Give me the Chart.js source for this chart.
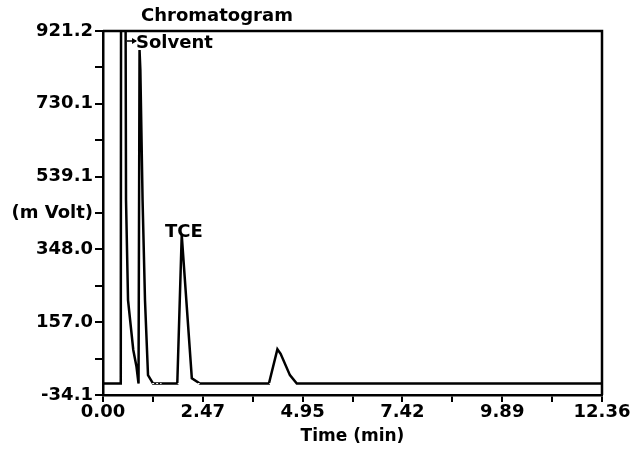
<!DOCTYPE html>
<html>
<head>
<meta charset="utf-8">
<script src="https://cdn.jsdelivr.net/npm/chart.js@4"></script>
<style>
  html, body { margin: 0; padding: 0; background: #fff; }
  #wrap { width: 636px; height: 455px; }
</style>
</head>
<body>
<div id="wrap"><canvas id="chart" width="636" height="455"></canvas></div>
<script>
// retention time (min) and detector signal (mV)
const time = [0, 0.44, 0.45, 0.55, 0.57, 0.62, 0.75, 0.83, 0.88, 0.89, 0.905, 0.925, 0.98, 1.04, 1.115, 1.24, 1.84, 1.95, 2.20, 2.40, 4.11, 4.32, 4.40, 4.63, 4.80, 12.36];
const signal = [-4, -4, 1400, 1400, 478, 215, 84, 40, -4, -4, 871, 820, 478, 215, 18, -4, -4, 386, 10, -4, -4, 86, 74, 18, -4, -4];

// integration windows marked along the baseline (min)
const integStart = [0.50, 0.92, 1.85, 4.12];
const integEnd = [0.87, 1.45, 2.40, 4.70];
const baseline = -4;

// axis ranges and tick labels
const xMin = 0, xMax = 12.36;
const yMin = -34.1, yMax = 921.2;
const xTickLabels = ['0.00', '', '2.47', '', '4.95', '', '7.42', '', '9.89', '', '12.36'];
const yTickLabels = ['-34.1', '', '157.0', '', '348.0', '(m Volt)', '539.1', '', '730.1', '', '921.2'];

// peak labels
const peakNames = ['Solvent', 'TCE'];

const tickFont = { family: 'DejaVu Sans', size: 18, weight: 'bold' };

const points = time.map((t, i) => ({ x: t, y: signal[i] }));
const marks = [];
integStart.forEach((s, i) => {
  marks.push({ x: s, y: baseline }, { x: integEnd[i], y: baseline }, { x: integEnd[i], y: null });
});

// frame, title and peak annotations
const extras = {
  id: 'extras',
  afterDraw(chart) {
    const ctx = chart.ctx;
    const a = chart.chartArea;
    ctx.save();
    ctx.strokeStyle = '#000';
    ctx.lineWidth = 2.5;
    ctx.beginPath();
    ctx.moveTo(a.left, a.top);
    ctx.lineTo(a.right, a.top);
    ctx.lineTo(a.right, a.bottom);
    ctx.stroke();

    ctx.fillStyle = '#000';
    ctx.font = 'bold 18px "DejaVu Sans"';
    ctx.textBaseline = 'middle';
    ctx.textAlign = 'center';
    ctx.fillText('Chromatogram', 217, 16);

    // arrow pointing at solvent peak
    ctx.lineWidth = 1.5;
    ctx.beginPath();
    ctx.moveTo(127, 41);
    ctx.lineTo(136, 41);
    ctx.stroke();
    ctx.beginPath();
    ctx.moveTo(137, 41);
    ctx.lineTo(132, 38);
    ctx.lineTo(132, 44);
    ctx.closePath();
    ctx.fill();
    ctx.textAlign = 'left';
    ctx.fillText(peakNames[0], 136, 43);
    ctx.fillText(peakNames[1], 165, 232);
    ctx.restore();
  }
};

new Chart(document.getElementById('chart').getContext('2d'), {
  type: 'scatter',
  data: {
    datasets: [{
      data: points,
      showLine: true,
      borderColor: '#000',
      borderWidth: 2.5,
      pointRadius: 0,
      tension: 0,
      order: 2
    }, {
      data: marks,
      showLine: true,
      spanGaps: false,
      borderColor: '#fff',
      borderWidth: 1,
      borderDash: [2, 2],
      pointRadius: 0,
      order: 1
    }]
  },
  options: {
    responsive: false,
    animation: false,
    layout: { padding: { top: 31, right: 34, bottom: 0, left: 0 } },
    plugins: { legend: { display: false }, tooltip: { enabled: false } },
    scales: {
      x: {
        type: 'linear',
        min: xMin,
        max: xMax,
        afterFit(s) { s.height = 60; },
        border: { display: true, color: '#000', width: 2.5 },
        grid: { drawOnChartArea: false, drawTicks: true, tickLength: 7, color: '#000', lineWidth: 2 },
        ticks: {
          stepSize: (xMax - xMin) / 10,
          autoSkip: false,
          maxRotation: 0,
          padding: 0,
          color: '#000',
          font: tickFont,
          callback: (v, i) => xTickLabels[i]
        },
        title: {
          display: true,
          text: 'Time (min)',
          color: '#000',
          font: { family: 'DejaVu Sans', size: 17, weight: 'bold' },
          padding: { top: 0, bottom: 8 }
        }
      },
      y: {
        min: yMin,
        max: yMax,
        afterFit(s) { s.width = 103; },
        border: { display: true, color: '#000', width: 2.5 },
        grid: { drawOnChartArea: false, drawTicks: true, tickLength: 8, color: '#000', lineWidth: 2 },
        ticks: {
          stepSize: (yMax - yMin) / 10,
          autoSkip: false,
          padding: 2,
          color: '#000',
          font: tickFont,
          callback: (v, i) => yTickLabels[i]
        }
      }
    }
  },
  plugins: [extras]
});
</script>
</body>
</html>
